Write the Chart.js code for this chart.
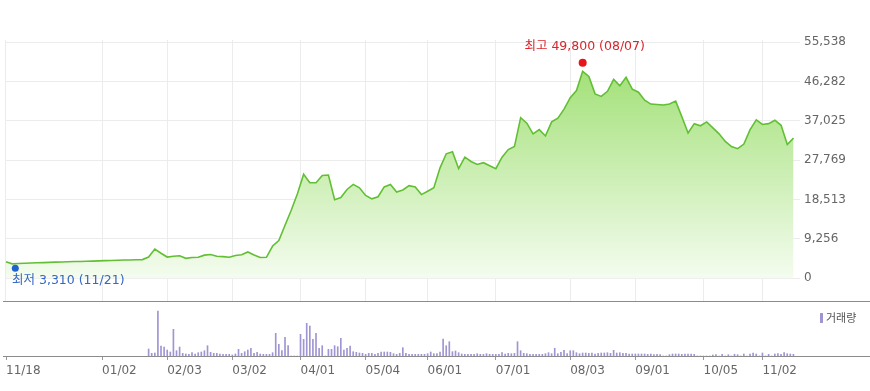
<!DOCTYPE html>
<html>
<head>
<meta charset="utf-8">
<script src="https://cdn.jsdelivr.net/npm/chart.js@4.4.0/dist/chart.umd.min.js"></script>
<style>
  body { margin: 0; background: #fff; }
  #wrap { position: relative; width: 870px; height: 391px; }
  #priceChart { position: absolute; left: 0; top: 0; }
  #volChart { position: absolute; left: 0; top: 302px; }
  #sep { position: absolute; left: 3px; top: 301px; width: 867px; height: 1px; background: #8c8c8c; }
</style>
</head>
<body>
<div id="wrap">
  <canvas id="priceChart" width="870" height="302"></canvas>
  <div id="sep"></div>
  <canvas id="volChart" width="870" height="89"></canvas>
</div>
<script>
// x axis is counted in trading days from 11/18
const tickDays = [0, 31, 52, 73, 95, 116, 136, 158, 182, 203, 225, 244];
const tickLabels = ['11/18', '01/02', '02/03', '03/02', '04/01', '05/04', '06/01', '07/01', '08/03', '09/01', '10/05', '11/02'];
const priceTicks = [0, 9256, 18513, 27769, 37025, 46282, 55538];

// closing price, one value every 2 trading days
const priceStep = 2;
const prices = [
    3900, 3400, 3500, 3550, 3600, 3650, 3700, 3750, 3800, 3850,
    3900, 3950, 3950, 4000, 4050, 4100, 4150, 4200, 4250, 4300,
    4300, 4350, 4400, 5000, 6900, 5900, 5000, 5200, 5300, 4700,
    4900, 4950, 5450, 5600, 5200, 5100, 4950, 5350, 5550, 6200,
    5500, 4900, 4950, 7600, 8900, 12500, 16000, 19900, 24500, 22500,
    22500, 24200, 24300, 18500, 19000, 20900, 22100, 21300, 19500, 18700,
    19200, 21500, 22100, 20300, 20800, 21800, 21500, 19700, 20500, 21300,
    26000, 29300, 29800, 25800, 28500, 27500, 26800, 27200, 26500, 25800,
    28500, 30300, 31000, 37800, 36500, 34000, 35000, 33500, 36800, 37700,
    39800, 42500, 44200, 48700, 47500, 43400, 42800, 44000, 46800, 45300,
    47300, 44500, 43800, 41900, 41000, 40900, 40800, 41000, 41700, 38000,
    34200, 36400, 35900, 36800, 35400, 34000, 32200, 31000, 30500, 31600,
    35000, 37300, 36200, 36400, 37200, 36000, 31500, 33000
];

// daily volume (thousand shares); nothing traded before day 46
const volumeStartDay = 46;
const volumes = [
    700, 270, 300, 4500, 1000, 900, 600, 400, 2670, 530,
    900, 270, 200, 170, 330, 200, 330, 400, 530, 1030,
    370, 270, 270, 200, 170, 170, 170, 100, 200, 670,
    270, 430, 600, 770, 270, 370, 200, 170, 170, 170,
    330, 2270, 1170, 530, 1870, 1030, 0, 0, 0, 2170,
    1670, 3270, 3000, 1670, 2270, 770, 1030, 0, 670, 670,
    1030, 930, 1770, 600, 770, 1000, 430, 370, 300, 270,
    170, 270, 270, 170, 270, 400, 400, 400, 370, 230,
    170, 270, 830, 270, 170, 170, 170, 170, 170, 170,
    230, 400, 230, 230, 400, 1700, 1030, 1430, 430, 500,
    330, 200, 170, 170, 170, 170, 230, 170, 170, 230,
    170, 170, 170, 170, 330, 200, 270, 230, 270, 1430,
    530, 270, 230, 170, 170, 170, 170, 170, 230, 330,
    230, 770, 230, 370, 570, 230, 530, 530, 330, 230,
    300, 300, 270, 300, 200, 270, 300, 300, 330, 270,
    570, 300, 330, 270, 270, 200, 200, 200, 200, 200,
    200, 170, 200, 130, 170, 130, 0, 0, 130, 200,
    200, 200, 170, 200, 200, 200, 170, 0, 0, 0,
    0, 0, 100, 130, 0, 170, 0, 130, 0, 170,
    130, 0, 200, 0, 200, 300, 200, 0, 300, 0,
    170, 0, 200, 230, 170, 330, 230, 200, 170
];

const highDay = 186;
const highPrice = 49800;
const highLabel = '최고 49,800 (08/07)';
const lowDay = 3;
const lowPrice = 3310;
const lowLabel = '최저 3,310 (11/21)';

const FONT = '"DejaVu Sans", "Noto Sans CJK KR", sans-serif';
Chart.defaults.font.family = FONT;
Chart.defaults.font.size = 12;
Chart.defaults.color = '#666';

function setDayTicks(scale) {
    scale.ticks = tickDays.map(d => ({ value: d }));
}

// high / low markers with their labels
const extremesPlugin = {
    id: 'extremes',
    afterDatasetsDraw(chart) {
        const { ctx, chartArea, scales: { x, y } } = chart;
        ctx.save();
        ctx.font = '12.5px ' + FONT;
        ctx.textBaseline = 'middle';

        let px = x.getPixelForValue(highDay);
        let py = y.getPixelForValue(highPrice) - 4;
        ctx.fillStyle = '#e8141c';
        ctx.beginPath();
        ctx.arc(px, py, 4, 0, Math.PI * 2);
        ctx.fill();
        ctx.fillStyle = '#d9252b';
        ctx.textAlign = 'center';
        ctx.fillText(highLabel, px + 2, py - 16);

        px = x.getPixelForValue(lowDay);
        py = y.getPixelForValue(lowPrice) + 4;
        ctx.fillStyle = '#1f63d0';
        ctx.beginPath();
        ctx.arc(px, py, 3.5, 0, Math.PI * 2);
        ctx.fill();
        ctx.fillStyle = '#3567c4';
        ctx.textAlign = 'left';
        const w = ctx.measureText(lowLabel).width;
        ctx.fillText(lowLabel, Math.max(chartArea.left + 7, px - w / 2), py + 13);
        ctx.restore();
    }
};

// small "거래량" legend in the volume panel
const volLegendPlugin = {
    id: 'volLegend',
    afterDraw(chart) {
        const { ctx, chartArea } = chart;
        const lx = chartArea.right - 50;
        const ly = chartArea.top + 8;
        ctx.save();
        ctx.fillStyle = '#9f95d4';
        ctx.fillRect(lx, ly - 5, 3, 10);
        ctx.fillStyle = '#555';
        ctx.font = '11px "Noto Sans CJK KR", sans-serif';
        ctx.textBaseline = 'middle';
        ctx.textAlign = 'left';
        ctx.fillText('거래량', lx + 6, ly);
        ctx.restore();
    }
};

new Chart(document.getElementById('priceChart'), {
    type: 'line',
    data: {
        datasets: [{
            data: prices.map((p, i) => ({ x: i * priceStep, y: p })),
            borderColor: '#62bf34',
            borderWidth: 1.6,
            pointRadius: 0,
            tension: 0,
            fill: 'origin',
            backgroundColor: (context) => {
                const { chart } = context;
                const { ctx, chartArea, scales } = chart;
                if (!chartArea) return 'rgba(160,225,115,0.5)';
                const g = ctx.createLinearGradient(0, chartArea.top, 0, scales.y.getPixelForValue(0));
                g.addColorStop(0, '#98dd68');
                g.addColorStop(1, '#f4fcef');
                return g;
            }
        }]
    },
    options: {
        responsive: false,
        animation: false,
        layout: { padding: { left: 5, top: 40, right: 0, bottom: 0 } },
        plugins: { legend: { display: false }, tooltip: { enabled: false } },
        scales: {
            x: {
                type: 'linear',
                min: -0.32,
                max: 256.1,
                afterBuildTicks: setDayTicks,
                ticks: { display: false },
                grid: { color: '#ececec', drawTicks: false },
                border: { display: false },
                afterFit: s => { s.height = 0; s.paddingLeft = 0; s.paddingRight = 0; }
            },
            y: {
                position: 'right',
                min: -5577,
                max: 56079,
                afterBuildTicks: s => { s.ticks = priceTicks.map(v => ({ value: v })); },
                ticks: { padding: 4, color: '#666', callback: v => v.toLocaleString('en-US') },
                grid: { color: '#ececec', drawTicks: false },
                border: { display: false },
                afterFit: s => { s.width = 70; s.paddingTop = 0; s.paddingBottom = 0; }
            }
        }
    },
    plugins: [extremesPlugin]
});

new Chart(document.getElementById('volChart'), {
    type: 'bar',
    data: {
        datasets: [{
            data: volumes.map((v, i) => ({ x: volumeStartDay + i, y: v })),
            backgroundColor: '#9f95d4',
            barThickness: 1,
            grouped: false
        }]
    },
    options: {
        responsive: false,
        animation: false,
        layout: { padding: { left: 3, top: 8, right: 0, bottom: 0 } },
        plugins: { legend: { display: false }, tooltip: { enabled: false } },
        scales: {
            x: {
                type: 'linear',
                offset: false,
                min: -0.97,
                max: 278.7,
                afterBuildTicks: setDayTicks,
                ticks: {
                    align: 'start',
                    maxRotation: 0,
                    autoSkip: false,
                    padding: 4,
                    color: '#666',
                    callback: (v, i) => tickLabels[i]
                },
                grid: { offset: false, drawOnChartArea: false, drawTicks: true, tickLength: 4, color: '#999' },
                border: { color: '#8c8c8c' },
                afterFit: s => { s.height = 35; s.paddingLeft = 0; s.paddingRight = 0; }
            },
            y: { display: false, min: 0, max: 4600 }
        }
    },
    plugins: [volLegendPlugin]
});
</script>
</body>
</html>
